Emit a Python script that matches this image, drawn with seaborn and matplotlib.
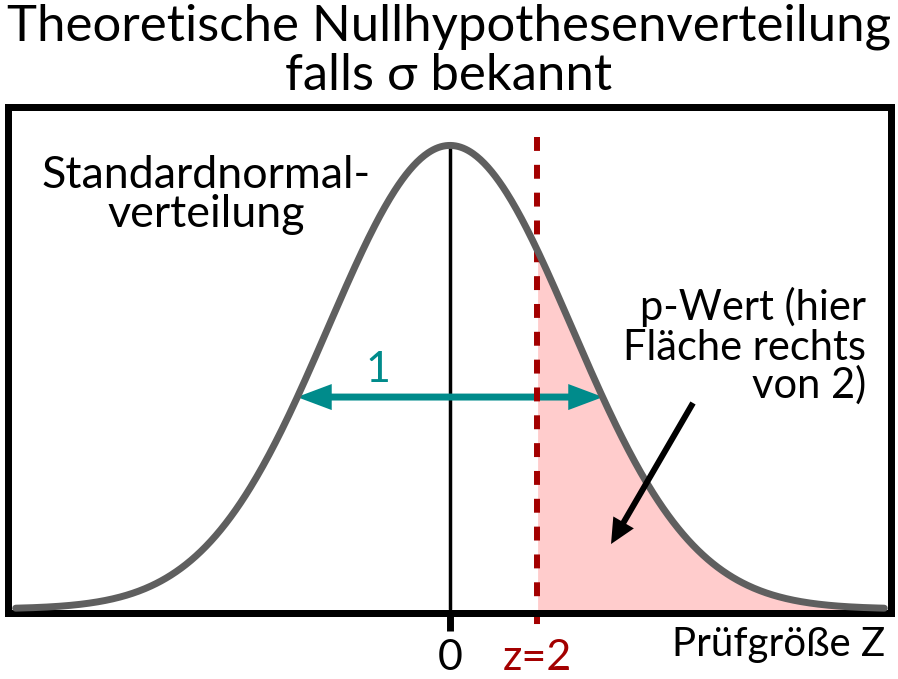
import numpy as np
import pandas as pd
import matplotlib
matplotlib.use("Agg")
import matplotlib.pyplot as plt
import seaborn as sns

# ---------------- data ----------------
mu, sigma = 0.0, 1.0
x_range = [-3.56, 3.56]            # extent of the drawn density curve (in sigma units)
z_line = 0.713                     # schematic position of the observed statistic z=2
sd_arrow = [-1.254, 1.254]         # ends of the "1" (one standard deviation) arrow
tick_pos = [0.0, 0.713]
tick_labels = ["0", "z=2"]
title_lines = ["Theoretische Nullhypothesenverteilung", "falls σ bekannt"]
curve_label = ["Standardnormal-", "verteilung"]
pvalue_label = ["p-Wert (hier", "Fläche rechts", "von 2)"]
axis_label = "Prüfgröße Z"
sd_label = "1"
pointer_from = [1.992, 0.1773]     # black pointer arrow start (data units)
pointer_to = [1.320, 0.0559]       # black pointer arrow tip

x = np.linspace(x_range[0], x_range[1], 700)
dens = np.exp(-0.5 * ((x - mu) / sigma) ** 2) / (sigma * np.sqrt(2 * np.pi))
df = pd.DataFrame({"z": x, "density": dens})

# ---------------- style ----------------
sns.set_theme(style="white")
plt.rcParams["font.family"] = ["Lato", "DejaVu Sans"]
plt.rcParams["text.color"] = "black"
plt.rcParams["axes.labelcolor"] = "black"
plt.rcParams["xtick.color"] = "black"

GREY = "#5f5f5f"
RED = "#a30000"
TEAL = "#008b8b"
PINK = "#ffcccc"

W, H = 898, 679
fig = plt.figure(figsize=(W / 100, H / 100), dpi=100)
ax = fig.add_axes([8 / W, (H - 612.5) / H, (891 - 8) / W, (612.5 - 106.5) / H])
ax.set_xlim(-3.623, 3.615)
ax.set_ylim(-0.00301, 0.43244)
ax.set_facecolor("white")

def fx(px):
    return px / W

def fy(py):
    return 1 - py / H

# p-value area
mask = df["z"] >= z_line
ax.fill_between(df["z"][mask], df["density"][mask], -0.00301, color=PINK, lw=0, zorder=1)

# vertical line at the mean
ax.plot([mu, mu], [0, dens.max()], color="black", lw=2.5, zorder=2)

# one-sigma double arrow
for end in sd_arrow:
    ax.annotate("", xy=(end, 0.1824), xytext=(0, 0.1824),
                arrowprops=dict(arrowstyle="simple,head_length=1.0,head_width=0.75,tail_width=0.2",
                                mutation_scale=25, color=TEAL, lw=0,
                                shrinkA=0, shrinkB=0), zorder=3)
ax.text(-0.59, 0.1955, sd_label, color=TEAL, fontsize=31, ha="center", va="baseline")

# dashed z line
ax.plot([z_line, z_line], [0.4062, -0.0198], color=RED, lw=4.3, dashes=(2.33, 2.33),
        clip_on=False, zorder=4)

# density curve
sns.lineplot(data=df, x="z", y="density", color=GREY, lw=5, ax=ax, zorder=5,
             solid_capstyle="round", clip_on=False)

# pointer arrow
ax.annotate("", xy=pointer_to, xytext=pointer_from,
            arrowprops=dict(arrowstyle="simple,head_length=1.0,head_width=0.95,tail_width=0.24",
                            mutation_scale=18, color="black", lw=0,
                            shrinkA=0, shrinkB=0), zorder=6)

# spines
for s in ax.spines.values():
    s.set_visible(True)
    s.set_linewidth(5.04)
    s.set_color("black")
    s.set_zorder(4.5)

# ticks
ax.set_yticks([])
ax.set_ylabel("")
ax.set_xticks(tick_pos, tick_labels)
ax.tick_params(axis="x", bottom=True, length=13, width=5, color="black", direction="out",
               pad=6, labelsize=31, labelcolor="black")
ax.xaxis.get_major_ticks()[1].tick1line.set_visible(False)
ax.get_xticklabels()[1].set_color(RED)

ax.set_xlabel(axis_label, fontsize=29, ha="right", va="baseline", color="black")
ax.xaxis.set_label_coords((885 - 8) / 883, (612.5 - 656) / 506)

# title
fig.text(fx(449), fy(40), title_lines[0], fontsize=36.6, ha="center", va="baseline")
fig.text(fx(449), fy(90), title_lines[1], fontsize=36.6, ha="center", va="baseline")

# annotations
for line, yb in zip(curve_label, [188, 227]):
    fig.text(fx(206), fy(yb), line, fontsize=32.3, ha="center", va="baseline")
for line, yb in zip(pvalue_label, [320, 360, 398]):
    fig.text(fx(866), fy(yb), line, fontsize=30, ha="right", va="baseline")

fig.savefig("out.png", dpi=100)
